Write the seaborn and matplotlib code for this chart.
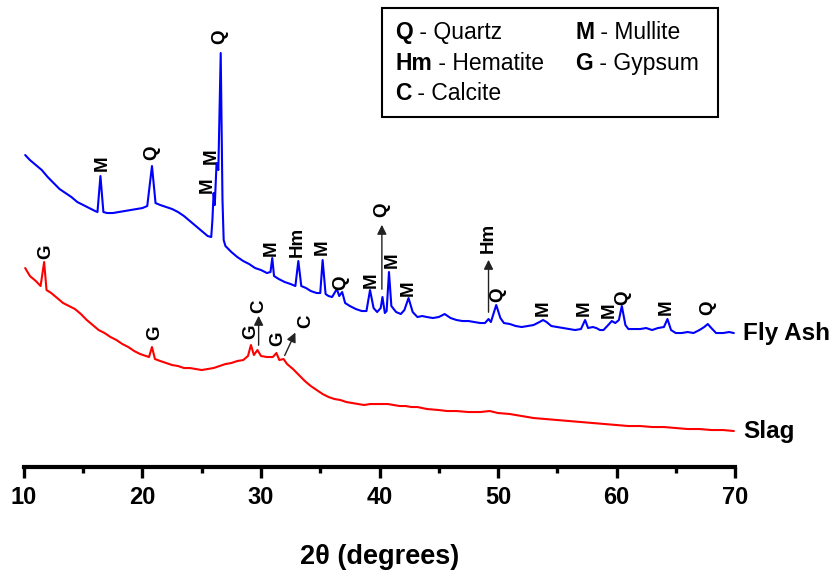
import matplotlib
matplotlib.use('Agg')
import matplotlib.pyplot as plt
import seaborn as sns
import pandas as pd
from matplotlib.patches import Rectangle


### DATA (arbitrary intensity units) ###

fly_ash_2theta = [
    10.1, 10.5, 11.0, 11.5, 12.0, 12.5, 13.0, 13.5, 14.0, 14.5, 15.0, 15.5,
    16.0, 16.2, 16.45, 16.7, 17.0, 17.5, 18.0, 18.5, 19.0, 19.5, 20.0, 20.4,
    20.8, 21.1, 21.5, 22.0, 22.5, 23.0, 23.5, 24.0, 24.5, 25.0, 25.5, 25.8,
    25.9, 26.0, 26.1, 26.25, 26.4, 26.6, 26.75, 26.85, 27.0, 27.5, 28.0, 28.5,
    29.0, 29.5, 30.0, 30.5, 30.8, 30.95, 31.1, 31.5, 32.0, 32.5, 32.9, 33.15,
    33.4, 33.8, 34.2, 34.7, 35.0, 35.2, 35.45, 35.7, 36.0, 36.4, 36.6, 36.85,
    37.1, 37.5, 38.0, 38.5, 38.9, 39.2, 39.5, 39.8, 40.1, 40.25, 40.45, 40.6,
    40.8, 41.0, 41.4, 41.8, 42.1, 42.45, 42.8, 43.2, 43.6, 44.0, 44.5, 45.0,
    45.5, 46.0, 46.5, 47.0, 47.5, 48.0, 48.5, 48.9, 49.2, 49.4, 49.85, 50.2,
    50.5, 51.0, 51.5, 52.0, 52.5, 53.0, 53.5, 53.8, 54.1, 54.5, 55.0, 55.5,
    56.0, 56.5, 57.0, 57.35, 57.6, 58.0, 58.3, 58.6, 58.9, 59.3, 59.6, 59.9,
    60.2, 60.45, 60.75, 61.0, 61.5, 62.0, 62.5, 63.0, 63.5, 64.0, 64.3, 64.6,
    65.0, 65.5, 66.0, 66.5, 67.0, 67.4, 67.7, 68.0, 68.4, 69.0, 69.5, 69.9
]

fly_ash_counts = [
    312, 307, 302, 297, 290, 284, 278, 274, 270, 265, 262, 259,
    256, 255, 291, 255, 254, 254, 255, 256, 257, 258, 259, 261,
    301, 264, 262, 260, 258, 255, 251, 246, 241, 236, 231, 230,
    247, 274, 262, 304, 297, 414, 267, 227, 221, 215, 210, 206,
    203, 199, 197, 194, 195, 209, 191, 188, 185, 183, 181, 206,
    181, 179, 176, 174, 174, 207, 173, 171, 170, 178, 171, 175,
    164, 161, 158, 156, 156, 177, 159, 155, 159, 170, 154, 156,
    195, 161, 155, 153, 157, 169, 155, 150, 151, 150, 149, 150,
    153, 149, 147, 146, 146, 145, 144, 144, 148, 145, 162, 149,
    144, 143, 141, 140, 141, 142, 145, 147, 145, 141, 140, 139,
    138, 137, 138, 147, 139, 140, 139, 137, 137, 142, 146, 144,
    147, 161, 142, 138, 138, 138, 139, 137, 139, 140, 148, 137,
    134, 134, 135, 134, 137, 140, 143, 139, 134, 134, 135, 134
]

slag_2theta = [
    10.1, 10.5, 11.0, 11.4, 11.7, 11.9, 12.3, 12.8, 13.3, 13.8, 14.3, 14.8,
    15.3, 15.8, 16.3, 16.8, 17.3, 17.8, 18.3, 18.8, 19.3, 19.8, 20.3, 20.55,
    20.8, 21.05, 21.5, 22.0, 22.5, 23.0, 23.5, 24.0, 24.5, 25.0, 25.5, 26.0,
    26.5, 27.0, 27.5, 28.0, 28.5, 28.9, 29.15, 29.4, 29.7, 30.0, 30.5, 31.0,
    31.3, 31.55, 31.9, 32.2, 32.7, 33.2, 33.7, 34.2, 34.7, 35.2, 35.7, 36.2,
    36.7, 37.2, 37.7, 38.2, 38.7, 39.2, 39.7, 40.2, 40.7, 41.2, 41.7, 42.2,
    42.7, 43.2, 44.0, 45.0, 45.7, 46.5, 47.5, 48.5, 49.3, 50.0, 51.0, 52.0,
    53.0, 54.0, 55.0, 56.0, 57.0, 58.0, 59.0, 60.0, 61.0, 62.0, 63.0, 64.0,
    65.0, 66.0, 67.0, 68.0, 69.0, 69.9
]

slag_counts = [
    199, 191, 186, 181, 205, 177, 174, 169, 164, 161, 158, 153,
    147, 142, 137, 134, 130, 127, 123, 120, 116, 113, 111, 110,
    120, 108, 106, 104, 102, 101, 99, 99, 98, 97, 98, 99,
    101, 103, 104, 106, 107, 111, 122, 112, 117, 111, 110, 110,
    114, 107, 108, 103, 98, 92, 86, 81, 77, 73, 70, 68,
    67, 65, 64, 63, 62, 63, 63, 63, 63, 62, 61, 61,
    60, 60, 58, 57, 56, 56, 55, 55, 56, 54, 53, 51,
    49, 48, 47, 46, 45, 44, 43, 42, 41, 41, 40, 40,
    39, 38, 38, 37, 37, 36
]

# peak labels: (phase, 2theta, label centre height)
fly_ash_peaks = [
    ('M', 16.6, 304), ('Q', 20.8, 314), ('M', 25.5, 282), ('M', 25.8, 311),
    ('Q', 26.5, 430), ('M', 30.9, 219), ('Hm', 33.1, 225), ('M', 35.2, 220),
    ('Q', 36.7, 184), ('M', 39.3, 187), ('M', 41.1, 207), ('M', 42.4, 179),
    ('Q', 50.0, 172), ('M', 53.8, 159), ('M', 57.3, 159), ('M', 59.4, 157),
    ('Q', 60.5, 169), ('M', 64.2, 160), ('Q', 67.7, 159)
]

slag_peaks = [
    ('G', 11.8, 215), ('G', 21.0, 134), ('G', 29.1, 135), ('G', 31.4, 128)
]

# arrowed labels: (phase, label x, label y, tail x, tail y, tip x, tip y)
arrow_peaks = [
    ('Q', 40.2, 257, 40.2, 175, 40.2, 245),
    ('Hm', 49.2, 229, 49.2, 152, 49.2, 210),
    ('C', 29.8, 161, 29.8, 119, 29.8, 154),
    ('C', 33.8, 146, 31.9, 109, 33.0, 137)
]

legend_entries = [
    ('Q', ' - Quartz', 0, 0), ('M', ' - Mullite', 1, 0),
    ('Hm', ' - Hematite', 0, 1), ('G', ' - Gypsum', 1, 1),
    ('C', ' - Calcite', 0, 2)
]


### PLOT ###

sns.set_style('ticks')
plt.rcParams['font.family'] = ['Liberation Sans', 'DejaVu Sans']
plt.rcParams['text.color'] = 'black'
plt.rcParams['axes.labelcolor'] = 'black'
plt.rcParams['xtick.color'] = 'black'
plt.rcParams['axes.edgecolor'] = 'black'

fig = plt.figure(figsize=(8.36, 5.78), dpi=100)
ax = fig.add_axes([0.0287, 0.192, 0.8505, 0.7993])

fly_df = pd.DataFrame({'two_theta': fly_ash_2theta, 'counts': fly_ash_counts})
slag_df = pd.DataFrame({'two_theta': slag_2theta, 'counts': slag_counts})

sns.lineplot(data=fly_df, x='two_theta', y='counts', ax=ax,
             color='#0000ff', lw=1.5, estimator=None, sort=False)
sns.lineplot(data=slag_df, x='two_theta', y='counts', ax=ax,
             color='#ff0000', lw=1.5, estimator=None, sort=False)

for label, x, y in fly_ash_peaks + slag_peaks:
    ax.text(x, y, label, rotation=90, ha='center', va='center',
            fontsize=13.5, fontweight='bold')

for label, lx, ly, tx, ty, hx, hy in arrow_peaks:
    ax.annotate('', xy=(hx, hy), xytext=(tx, ty),
                arrowprops=dict(arrowstyle='-|>', color='#222222',
                                lw=1.0, mutation_scale=14))
    ax.text(lx, ly, label, rotation=90, ha='center', va='center',
            fontsize=13.5, fontweight='bold')

ax.text(70.7, fly_ash_counts[-1], 'Fly Ash', ha='left', va='center',
        fontsize=17.5, fontweight='bold')
ax.text(70.7, slag_counts[-1], 'Slag', ha='left', va='center',
        fontsize=17.5, fontweight='bold')

ax.set_xlim(10, 70)
ax.set_ylim(0, 462)
ax.set_xticks(range(10, 71, 10))
ax.set_xticks(range(15, 70, 10), minor=True)
ax.set_yticks([])
ax.set_xlabel('2θ (degrees)', fontsize=19.5, fontweight='bold', labelpad=25)
ax.set_ylabel('')

for side in ['left', 'right', 'top']:
    ax.spines[side].set_visible(False)
ax.spines['bottom'].set_linewidth(3)

ax.tick_params(axis='x', which='major', direction='out', length=8,
               width=2.4, labelsize=17, pad=6)
ax.tick_params(axis='x', which='minor', direction='out', length=4,
               width=2.4)
for lab in ax.get_xticklabels():
    lab.set_fontweight('bold')

# phase key box
fig.patches.append(Rectangle((0.457, 0.7976), 0.402, 0.1886,
                             transform=fig.transFigure, fill=False,
                             edgecolor='black', lw=1.5))

for bold, rest, col, row in legend_entries:
    x0 = 0.4725 + col * 0.2153
    y0 = 0.943 - row * 0.052
    key = fig.text(x0, y0, bold, fontsize=16.5, fontweight='bold',
                   ha='left', va='center')
    fig.canvas.draw()
    ax.annotate(rest, xy=(1, 0), xycoords=key, ha='left', va='bottom',
                fontsize=16.5)

fig.savefig('out.png', dpi=100)
